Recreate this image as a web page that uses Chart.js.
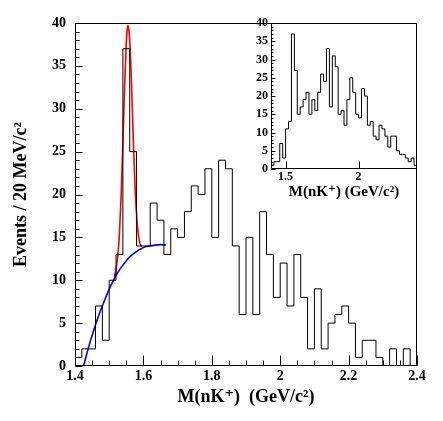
<!DOCTYPE html>
<html><head><meta charset="utf-8">
<script src="https://cdn.jsdelivr.net/npm/chart.js@4.4.1/dist/chart.umd.min.js"></script>
<style>
html,body{margin:0;padding:0;background:#fff;overflow:hidden}
#wrap{position:relative;width:443px;height:421px;background:#fff}
#main{position:absolute;left:0;top:0}
#inset{position:absolute;left:229px;top:10px}
</style></head><body>
<div id="wrap"><canvas id="main" width="443" height="421"></canvas><canvas id="inset" width="195" height="195"></canvas></div>
<script>
// ---- data ----
const binLow = 1.4;
const binWidth = 0.02;
const mainCounts = [1,2,2,7,3,10,13,37,25,14, 14,19,17,13,16,15,18,21,20,23,
                    15,24,23,14,6,15,6,18,13,8, 12,7,13,8,2,9,2,5,6,7,
                    5,1,3,3,1,0,2,0,2,0];
const insetCounts = [1,2,2,7,3,11,13,37,27,15, 17,19,21,15,19,16,21,26,24,33,
                     17,31,28,15,16,12,19,25,21,15, 14,22,20,12,13,9,8,12,11,9,
                     6,9,9,5,4,4,3,2,3,1];
const mainXTicks = [1.4,1.6,1.8,2.0,2.2,2.4];
const yTicks = [0,5,10,15,20,25,30,35,40];
const insetXTicks = [1.5,2.0];
// signal + background fit (red)
const fitX = [1.515,1.52,1.525,1.53,1.535,1.54,1.545,1.55,1.5525,1.555,1.5575,1.56,1.565,1.57,1.575,1.58,1.585,1.59,1.595];
const fitY = [10.4,11.3,12.8,15.5,19.9,25.9,32.5,37.8,39.2,39.7,39.2,38.0,33.2,27.0,21.5,17.6,15.4,14.3,13.9];
// background (blue)
const bkgX = [1.425,1.435,1.445,1.455,1.465,1.475,1.485,1.495,1.505,1.515,1.525,1.535,1.545,1.555,1.565,1.575,1.585,1.595,1.605,1.62,1.635,1.65,1.665];
const bkgY = [0,1.5,2.9,4.2,5.4,6.5,7.5,8.5,9.4,10.2,10.9,11.5,12.0,12.5,12.9,13.2,13.5,13.7,13.9,14.0,14.1,14.15,14.1];

// ---- helpers ----
function histPoints(counts){
  const pts = counts.map((c,i)=>({x: +(binLow + i*binWidth).toFixed(4), y: c}));
  pts.push({x: +(binLow + counts.length*binWidth).toFixed(4), y: counts[counts.length-1]});
  return pts;
}
function zip(xs, ys){ return xs.map((x,i)=>({x:x, y:ys[i]})); }
function fmt(v){ return String(Math.round(v*10)/10); }

function rootFrame(cfg){
  return {
    id: 'rootFrame',
    afterDatasetsDraw(chart){
      const {ctx, chartArea:a, scales} = chart;
      const x = scales.x, y = scales.y;
      ctx.save();
      ctx.strokeStyle = '#000';
      ctx.lineWidth = 1;
      ctx.beginPath();
      const L = Math.round(a.left)+0.5, R = Math.round(a.right)-0.5, T = Math.round(a.top)+0.5, B = Math.round(a.bottom)-0.5;
      ctx.moveTo(L,T); ctx.lineTo(R,T); ctx.lineTo(R,B); ctx.lineTo(L,B); ctx.closePath();
      if (cfg.xMinorStep){
        const n = Math.round((cfg.xMax-cfg.xMin)/cfg.xMinorStep);
        for (let k=0;k<=n;k++){
          const px = Math.round(x.getPixelForValue(cfg.xMin + k*cfg.xMinorStep))+0.5;
          ctx.moveTo(px,B); ctx.lineTo(px,B-cfg.xMinLen);
        }
      }
      cfg.xMajors.forEach(v=>{
        const px = Math.round(x.getPixelForValue(v))+0.5;
        ctx.moveTo(px,B); ctx.lineTo(px,B-cfg.xMajLen);
      });
      const ny = Math.round((cfg.yMax-cfg.yMin)/cfg.yMinorStep);
      for (let k=0;k<=ny;k++){
        const py = Math.round(y.getPixelForValue(cfg.yMin + k*cfg.yMinorStep))+0.5;
        ctx.moveTo(L,py); ctx.lineTo(L+cfg.yMinLen,py);
      }
      cfg.yMajors.forEach(v=>{
        const py = Math.round(y.getPixelForValue(v))+0.5;
        ctx.moveTo(L,py); ctx.lineTo(L+cfg.yMajLen,py);
      });
      ctx.stroke();
      ctx.restore();
    }
  };
}

Chart.defaults.font.family = "'Liberation Serif', 'DejaVu Serif', serif";
Chart.defaults.font.weight = 'bold';
Chart.defaults.color = '#000';

const noGrid = { display: false, drawTicks: false, tickLength: 0 };

// ---- main chart ----
new Chart(document.getElementById('main'), {
  type: 'line',
  data: { datasets: [
    { data: histPoints(mainCounts), stepped: 'before', borderColor: '#000', borderWidth: 1, pointRadius: 0, fill: false },
    { data: zip(bkgX, bkgY), borderColor: '#0000ff', borderWidth: 1.6, pointRadius: 0, cubicInterpolationMode: 'monotone', fill: false },
    { data: zip(fitX, fitY), borderColor: '#ff0000', borderWidth: 1.6, pointRadius: 0, cubicInterpolationMode: 'monotone', fill: false }
  ]},
  options: {
    responsive: false, animation: false, devicePixelRatio: 1,
    layout: { padding: { left: 0, right: 26, top: 23, bottom: 0 } },
    plugins: { legend: { display: false }, tooltip: { enabled: false } },
    scales: {
      x: {
        type: 'linear', min: 1.4, max: 2.4,
        afterBuildTicks: s => { s.ticks = mainXTicks.map(v=>({value:v})); },
        afterFit: s => { s.height = 55; },
        grid: noGrid, border: { display: false },
        ticks: { callback: fmt, font: { size: 14, weight: 'bold' }, padding: 2, maxRotation: 0, autoSkip: false },
        title: { display: true, text: 'M(nK\u207A)  (GeV/c\u00B2)', font: { size: 18, weight: 'bold' }, padding: { top: 0, bottom: 13 } }
      },
      y: {
        type: 'linear', min: 0, max: 40,
        afterBuildTicks: s => { s.ticks = yTicks.map(v=>({value:v})); },
        afterFit: s => { s.width = 75; },
        grid: noGrid, border: { display: false },
        ticks: { callback: fmt, font: { size: 14, weight: 'bold' }, padding: 9 },
        title: { display: true, text: 'Events / 20 MeV/c\u00B2', font: { size: 18, weight: 'bold' }, padding: { top: 11, bottom: 0 } }
      }
    }
  },
  plugins: [rootFrame({ xMin: 1.4, xMax: 2.4, xMinorStep: 0.05, xMinLen: 5, xMajors: mainXTicks, xMajLen: 10,
                        yMin: 0, yMax: 40, yMinorStep: 1, yMinLen: 4, yMajors: yTicks, yMajLen: 7 })]
});

// ---- inset chart ----
new Chart(document.getElementById('inset'), {
  type: 'line',
  data: { datasets: [
    { data: histPoints(insetCounts), stepped: 'before', borderColor: '#000', borderWidth: 1, pointRadius: 0, fill: false }
  ]},
  options: {
    responsive: false, animation: false, devicePixelRatio: 1,
    layout: { padding: { left: 0, right: 7, top: 13, bottom: 0 } },
    plugins: { legend: { display: false }, tooltip: { enabled: false } },
    scales: {
      x: {
        type: 'linear', min: 1.4, max: 2.4,
        afterBuildTicks: s => { s.ticks = insetXTicks.map(v=>({value:v})); },
        afterFit: s => { s.height = 36; },
        grid: noGrid, border: { display: false },
        ticks: { callback: fmt, font: { size: 12, weight: 'bold' }, padding: 1, maxRotation: 0, autoSkip: false },
        title: { display: true, text: 'M(nK\u207A) (GeV/c\u00B2)', font: { size: 15, weight: 'bold' }, padding: { top: 0, bottom: 4 } }
      },
      y: {
        type: 'linear', min: 0, max: 40,
        afterBuildTicks: s => { s.ticks = yTicks.map(v=>({value:v})); },
        afterFit: s => { s.width = 42; },
        grid: noGrid, border: { display: false },
        ticks: { callback: fmt, font: { size: 12, weight: 'bold' }, padding: 3 }
      }
    }
  },
  plugins: [rootFrame({ xMin: 1.4, xMax: 2.4, xMinorStep: 0, xMinLen: 0, xMajors: insetXTicks, xMajLen: 7,
                        yMin: 0, yMax: 40, yMinorStep: 1, yMinLen: 2, yMajors: yTicks, yMajLen: 4 })]
});
</script>
</body></html>
